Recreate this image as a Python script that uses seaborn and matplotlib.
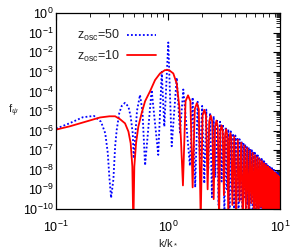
import numpy as np
import pandas as pd
import matplotlib
matplotlib.use("Agg")
import matplotlib.pyplot as plt
import seaborn as sns
from matplotlib.ticker import LogLocator, NullFormatter

# ---------------- data (f given as log10 f) ----------------
# z_osc = 10 (red, solid) : smooth low-k part
red_k_low = [0.1, 0.133, 0.18, 0.247, 0.3, 0.337, 0.373, 0.413, 0.443, 0.464, 0.48,
             0.49, 0.50, 0.518, 0.543, 0.582, 0.624, 0.69, 0.766, 0.849, 0.94, 1.02,
             1.115, 1.196, 1.262, 1.306]
red_lf_low = [-5.95, -5.78, -5.56, -5.33, -5.27, -5.27, -5.42, -5.63, -6.05, -6.65, -7.84,
              -11.0, -7.84, -6.65, -5.8, -5.1, -4.5, -4.0, -3.42, -3.08, -2.91, -2.91,
              -3.08, -3.59, -4.78, -6.48]
# z_osc = 10 : oscillating tail (troughs and arch tops)
red_trough_k = [1.36, 1.66, 1.96, 2.26, 2.56, 2.86, 3.16, 3.46, 3.76, 4.06, 4.36, 4.66,
                4.96, 5.26, 5.56, 5.86, 6.16, 6.46, 6.76, 7.06, 7.36, 7.66, 7.96, 8.26,
                8.56, 8.86, 9.16, 9.46, 9.76]
red_trough_lf = [-8.8, -8.9, -10.6, -9.0, -9.5, -10.6, -9.3, -10.6, -9.8, -10.6, -9.6, -10.6,
                 -10.0, -10.6, -9.7, -10.6, -10.2, -10.6, -9.9, -10.6, -10.3, -10.6, -10.1,
                 -10.6, -10.4, -10.6, -10.2, -10.6, -10.6]
red_peak_k = [1.51, 1.81, 2.11, 2.41, 2.71, 3.01, 3.31, 3.61, 3.91, 4.21, 4.51, 4.81, 5.11,
              5.41, 5.71, 6.01, 6.31, 6.61, 6.91, 7.21, 7.51, 7.81, 8.11, 8.41, 8.71, 9.01,
              9.31, 9.61, 9.91]
red_peak_lf = [-4.20, -4.60, -4.94, -5.23, -5.49, -5.73, -5.93, -6.13, -6.30, -6.47, -6.62,
               -6.76, -6.89, -7.02, -7.14, -7.26, -7.36, -7.46, -7.56, -7.66, -7.75, -7.84,
               -7.92, -8.00, -8.08, -8.15, -8.22, -8.30, -8.36]
# shoulders of the first (wider) arches
red_sh_k = [1.435, 1.585, 1.735, 1.885, 2.035, 2.185, 2.335, 2.485, 2.635, 2.785,
            2.935, 3.085, 3.235, 3.385, 3.535, 3.685]
red_sh_lf = [-4.50, -4.50, -4.90, -4.90, -5.24, -5.24, -5.53, -5.53, -5.79, -5.79,
             -6.03, -6.03, -6.23, -6.23, -6.43, -6.43]
red_end_k, red_end_lf = [10.0], [-8.42]

# z_osc = 50 (blue, dotted) : low-k part
blue_k_low = [0.1, 0.1315, 0.173, 0.218, 0.252, 0.275, 0.2896, 0.299, 0.310, 0.325, 0.337,
              0.348, 0.367, 0.386, 0.413, 0.443, 0.464, 0.484, 0.494, 0.528, 0.562, 0.591,
              0.624, 0.714, 0.818, 0.879, 0.927, 1.006, 1.079, 1.196, 1.28, 1.37]
blue_lf_low = [-5.9, -5.63, -5.32, -5.25, -5.55, -6.14, -7.14, -8.35, -9.44, -8.5, -6.8,
               -5.97, -5.1, -4.74, -4.58, -4.78, -5.29, -6.14, -7.42, -5.0, -4.18, -5.0,
               -7.78, -3.93, -7.24, -3.0, -5.8, -1.5, -6.8, -3.3, -6.1, -3.9]
# z_osc = 50 : oscillating tail
blue_trough_k = [1.57, 1.75, 1.93, 2.11, 2.29, 2.47, 2.65, 2.83, 3.01, 3.19, 3.37, 3.55,
                 3.73, 3.91, 4.09, 4.27, 4.45, 4.63, 4.81, 4.99, 5.17, 5.35, 5.53, 5.71,
                 5.89, 6.07, 6.25, 6.43, 6.61, 6.79, 6.97, 7.15, 7.33, 7.51, 7.69, 7.87,
                 8.05, 8.23, 8.41, 8.59, 8.77, 8.95, 9.13, 9.31, 9.49, 9.67, 9.85]
blue_trough_lf = [-7.8, -8.9, -7.5, -8.7, -8.0, -9.4, -8.4, -9.8, -8.6, -10.3, -9.0, -10.5,
                  -9.2, -10.5, -9.4, -10.5, -9.6, -10.5, -9.5, -10.5, -9.8, -10.5, -9.7,
                  -10.5, -9.9, -10.5, -10.0, -10.5, -9.9, -10.5, -10.1, -10.5, -10.0, -10.5,
                  -10.2, -10.5, -10.1, -10.5, -10.3, -10.5, -10.2, -10.5, -10.4, -10.5,
                  -10.3, -10.5, -10.5]
blue_peak_k = [1.66, 1.84, 2.02, 2.20, 2.38, 2.56, 2.74, 2.92, 3.10, 3.28, 3.46, 3.64,
               3.82, 4.00, 4.18, 4.36, 4.54, 4.72, 4.90, 5.08, 5.26, 5.44, 5.62, 5.80,
               5.98, 6.16, 6.34, 6.52, 6.70, 6.88, 7.06, 7.24, 7.42, 7.60, 7.78, 7.96,
               8.14, 8.32, 8.50, 8.68, 8.86, 9.04, 9.22, 9.40, 9.58, 9.76, 9.94]
blue_peak_lf = [-4.30, -4.53, -4.74, -4.93, -5.10, -5.26, -5.41, -5.55, -5.68, -5.81, -5.93,
                -6.04, -6.15, -6.25, -6.35, -6.44, -6.53, -6.62, -6.70, -6.78, -6.86, -6.93,
                -7.01, -7.07, -7.14, -7.21, -7.27, -7.33, -7.39, -7.45, -7.51, -7.57, -7.62,
                -7.67, -7.72, -7.77, -7.83, -7.87, -7.92, -7.97, -8.01, -8.06, -8.10, -8.14,
                -8.18, -8.22, -8.27]

labels = [r"z$_{\rm osc}$=50", r"z$_{\rm osc}$=10"]
xticks = [0.1, 1, 10]
yticks = [10.0 ** e for e in range(-10, 1)]


def build(k_lists, lf_lists, name):
    k = np.concatenate([np.asarray(a, float) for a in k_lists])
    lf = np.concatenate([np.asarray(a, float) for a in lf_lists])
    order = np.argsort(k, kind="stable")
    return pd.DataFrame({"k": k[order], "f": 10.0 ** lf[order], "series": name})


df_blue = build([blue_k_low, blue_trough_k, blue_peak_k],
                [blue_lf_low, blue_trough_lf, blue_peak_lf], labels[0])
df_red = build([red_k_low, red_trough_k, red_peak_k, red_sh_k, red_end_k],
               [red_lf_low, red_trough_lf, red_peak_lf, red_sh_lf, red_end_lf], labels[1])

# ---------------- figure ----------------
sns.set_theme(style="white")
plt.rcParams["font.family"] = ["Liberation Sans", "DejaVu Sans"]
plt.rcParams["mathtext.fontset"] = "custom"
plt.rcParams["mathtext.rm"] = "Liberation Sans"
plt.rcParams["mathtext.it"] = "Liberation Sans:italic"

fig = plt.figure(figsize=(3.0, 2.52), dpi=100)
ax = fig.add_axes([0.187, 0.171, 0.746, 0.777])

sns.lineplot(data=df_blue, x="k", y="f", ax=ax, color="#0000ff", lw=1.3,
             linestyle=(0, (1, 1.2)), sort=False, estimator=None, label=labels[0])
sns.lineplot(data=df_red, x="k", y="f", ax=ax, color="#ff0000", lw=1.3,
             sort=False, estimator=None, label=labels[1])

ax.set_xscale("log")
ax.set_yscale("log")
ax.set_xlim(0.1, 10)
ax.set_ylim(1e-10, 1)
ax.set_xticks(xticks)
ax.set_yticks(yticks)
ax.xaxis.set_minor_locator(LogLocator(base=10, subs=np.arange(2, 10), numticks=20))
ax.yaxis.set_minor_locator(LogLocator(base=10, subs=np.arange(2, 10), numticks=30))
ax.xaxis.set_minor_formatter(NullFormatter())
ax.yaxis.set_minor_formatter(NullFormatter())

ax.tick_params(which="both", direction="in", top=True, right=True, colors="black",
               labelsize=9, pad=2)
ax.tick_params(which="major", length=5, width=0.8)
ax.tick_params(which="minor", length=3, width=0.6)
ax.tick_params(axis="x", pad=8)
for s in ax.spines.values():
    s.set_color("black")
    s.set_linewidth(0.9)

ax.set_xlabel(r"k/k$_*$", fontsize=8, labelpad=2)
ax.set_ylabel(r"f$_\psi$", fontsize=8, rotation=0)
ax.yaxis.set_label_coords(-0.19, 0.46)

leg = ax.legend(loc="upper left", bbox_to_anchor=(0.07, 0.95), frameon=False,
                markerfirst=False, fontsize=9, handlelength=2.3,
                handletextpad=0.6, labelspacing=0.45, borderaxespad=0.0)

fig.savefig("out.png", dpi=100)
